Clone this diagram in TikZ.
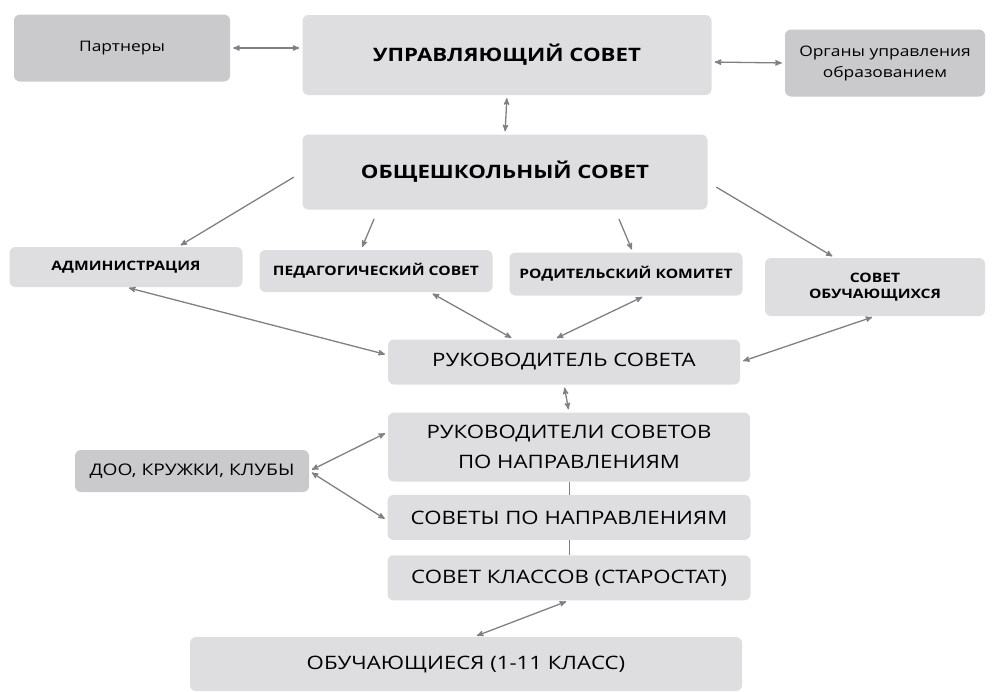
\documentclass[tikz,border=0pt]{standalone}
\usepackage{fontspec}
\setmainfont{Open Sans}[FakeStretch=1.2]
\usetikzlibrary{arrows,positioning}

\definecolor{boxgray}{RGB}{222,222,224}
\definecolor{boxdark}{RGB}{202,202,204}
\definecolor{linkgray}{RGB}{128,128,128}

\tikzset{
	unit/.style={fill=boxgray,rounded corners=6pt,align=center,inner sep=0pt},
	outer/.style={unit,fill=boxdark},
	headfont/.style={font=\bfseries\fontsize{18.5}{22}\selectfont},
	tinyfont/.style={font=\fontsize{14.5}{21}\selectfont},
	capsfont/.style={font=\bfseries\fontsize{13}{16}\selectfont},
	midfont/.style={font=\fontsize{18.5}{30}\selectfont},
	link/.style={<->,linkgray,line width=1.3pt,shorten >=3pt,shorten <=3pt},
	plainlink/.style={linkgray,line width=0.8pt}
}

\begin{document}
\begin{tikzpicture}[x=1pt,y=-1pt,>=stealth']
	\useasboundingbox (0,0) rectangle (992,691);
	% upper level
	\node[outer,tinyfont,minimum width=216pt,minimum height=67pt] (part) at (122,48) {Партнеры};
	\node[unit,headfont,minimum width=409pt,minimum height=80pt] (us) at (507,55) {УПРАВЛЯЮЩИЙ СОВЕТ};
	\node[outer,tinyfont,minimum width=200pt,minimum height=67pt] (org) at (885,63) {Органы управления\\образованием};
	\node[unit,headfont,minimum width=405pt,minimum height=75pt] (os) at (505,172) {ОБЩЕШКОЛЬНЫЙ СОВЕТ};
	% second level
	\node[unit,capsfont,minimum width=233pt,minimum height=40pt] (adm) at (126,267) {АДМИНИСТРАЦИЯ};
	\node[unit,capsfont,minimum width=233pt,minimum height=42pt] (ped) at (376,271) {ПЕДАГОГИЧЕСКИЙ СОВЕТ};
	\node[unit,capsfont,minimum width=233pt,minimum height=43pt] (rod) at (626,274) {РОДИТЕЛЬСКИЙ КОМИТЕТ};
	\node[unit,capsfont,minimum width=220pt,minimum height=58pt] (sob) at (875,287) {СОВЕТ\\ОБУЧАЮЩИХСЯ};
	\node[unit,midfont,minimum width=352pt,minimum height=45pt] (rs) at (564,362) {РУКОВОДИТЕЛЬ СОВЕТА};
	% lower level
	\node[unit,midfont,minimum width=362pt,minimum height=69pt] (rsn) at (569,447) {РУКОВОДИТЕЛИ СОВЕТОВ\\ПО НАПРАВЛЕНИЯМ};
	\node[outer,font=\fontsize{16}{20}\selectfont,minimum width=234pt,minimum height=42pt] (doo) at (192,471) {ДОО, КРУЖКИ, КЛУБЫ};
	\node[unit,midfont,minimum width=363pt,minimum height=45pt,below=13pt of rsn] (spn) {СОВЕТЫ ПО НАПРАВЛЕНИЯМ};
	\node[unit,midfont,minimum width=363pt,minimum height=45pt,below=15pt of spn] (sk) {СОВЕТ КЛАССОВ (СТАРОСТАТ)};
	\node[unit,midfont,minimum width=552pt,minimum height=54pt] (ob) at (466,664) {ОБУЧАЮЩИЕСЯ (1-11 КЛАСС)};

	\path[link]
		(part.east) edge (part.east -| us.west)
		([yshift=-7pt]us.east) edge (org.west)
		(us.south) edge (os.north)
		(adm.south) edge ([yshift=7pt]rs.west)
		([xshift=54pt]ped.south) edge ([xshift=-50pt]rs.north)
		([xshift=19pt]rod.south) edge ([xshift=-10pt]rs.north)
		(sob.south) edge (rs.east)
		(rs.south) edge (rsn.north)
		(doo.east) edge ([yshift=15pt]rsn.west)
		(doo.east) edge ([yshift=-3pt]spn.west)
		(sk.south) edge ([xshift=8pt]ob.north);
	\path[->,linkgray,line width=1.3pt,shorten <=10pt,shorten >=3pt]
		(os.west) edge ([xshift=52pt]adm.north)
		([xshift=-127pt]os.south) edge ([xshift=-15pt]ped.north)
		([xshift=110pt]os.south) edge ([xshift=7pt]rod.north)
		([yshift=-10pt]os.east) edge ([xshift=-40pt]sob.north);
	\path[plainlink]
		(rsn.south) edge (spn.north)
		(spn.south) edge (sk.north);
\end{tikzpicture}
\end{document}
